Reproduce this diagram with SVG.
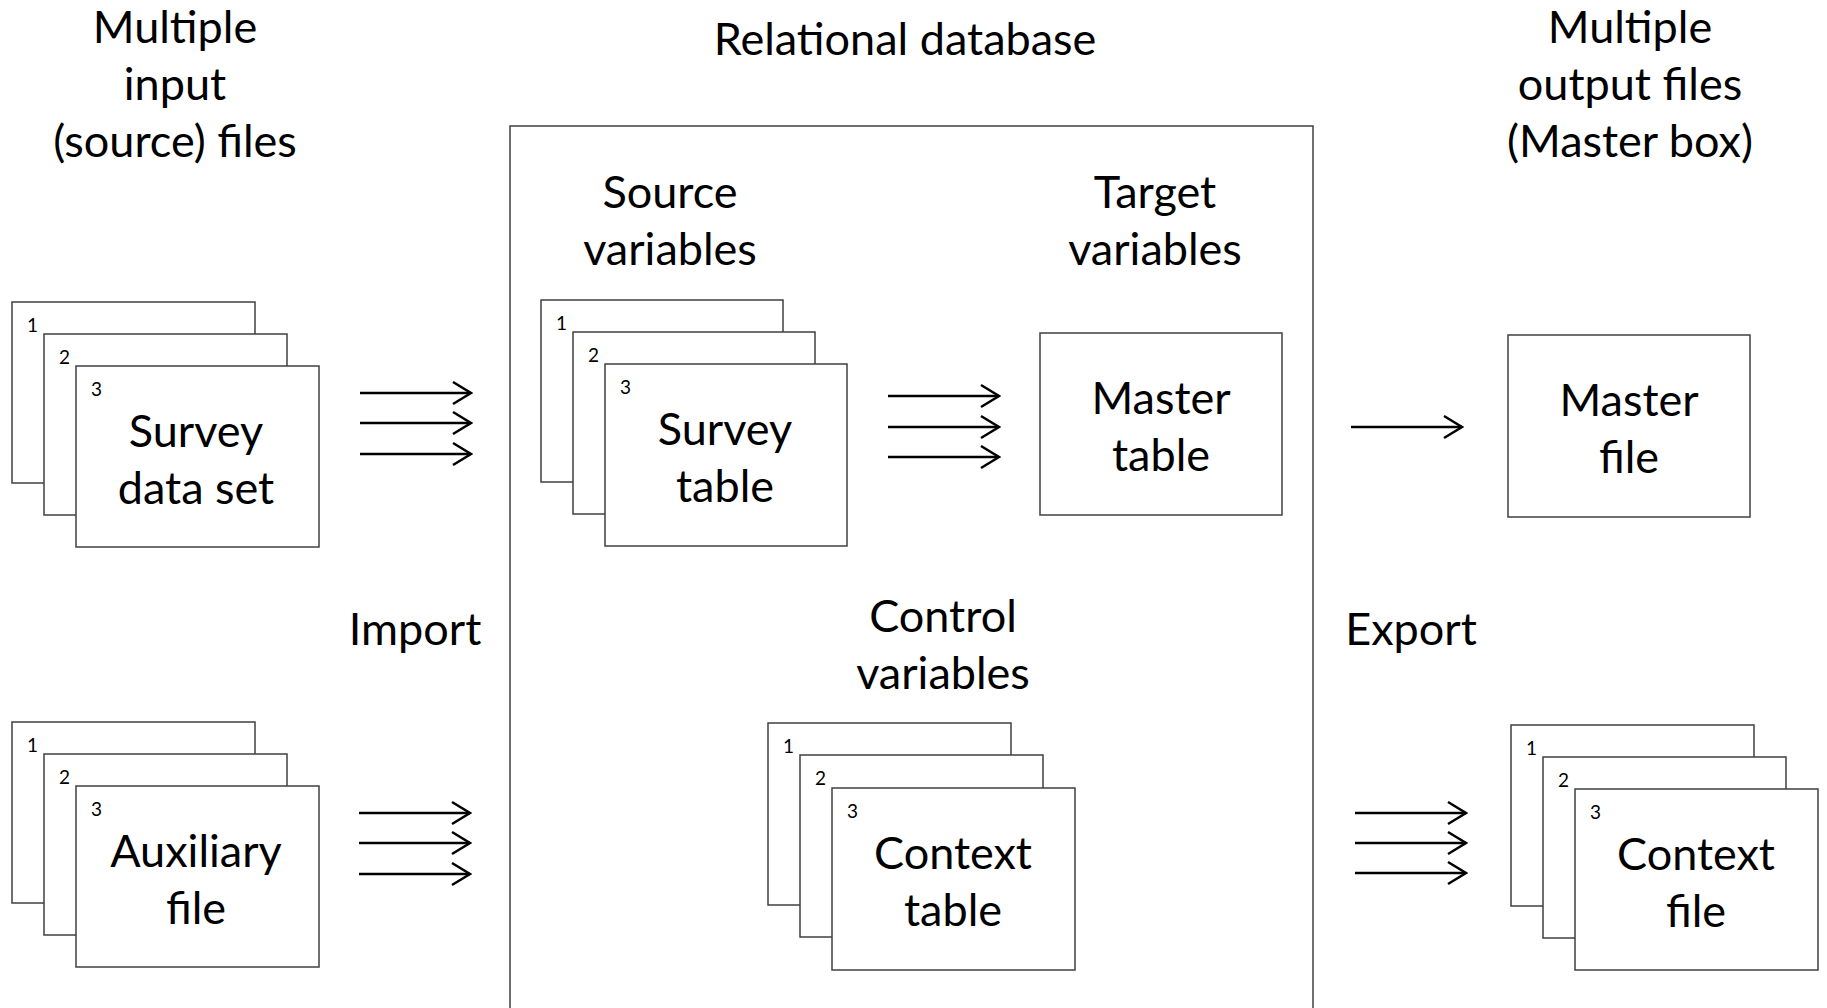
<svg xmlns="http://www.w3.org/2000/svg" width="1827" height="1008" viewBox="0 0 1827 1008">
<defs>
<style>
text{font-family:Lato,"Liberation Sans",sans-serif;fill:#000}
.big{font-size:45px;text-anchor:middle}
.num{font-size:19px}
.card{fill:#fff;stroke:#404040;stroke-width:1.5}
.arrow{stroke:#000;stroke-width:2.5;fill:none;marker-end:url(#chev)}
.db{fill:none;stroke:#404040;stroke-width:1.5}
</style>
<marker id="chev" viewBox="-20 -13 22 26" refX="0" refY="0" markerWidth="22" markerHeight="26" markerUnits="userSpaceOnUse" orient="auto">
<path d="M-18,-11 L0,0 L-18,11" fill="none" stroke="#000" stroke-width="2.5"/>
</marker>
</defs>
<rect fill="#fff" width="1827" height="1008"/>

<g id="headers">
<text class="big" x="175" y="43">Multiple</text>
<text class="big" x="175" y="100">input</text>
<text class="big" x="175" y="157">(source) files</text>
<text class="big" x="905" y="55">Relational database</text>
<text class="big" x="1630" y="43">Multiple</text>
<text class="big" x="1630" y="100">output files</text>
<text class="big" x="1630" y="157">(Master box)</text>
<text class="big" x="415" y="645">Import</text>
<text class="big" x="1411" y="645">Export</text>
</g>

<g id="relational-database">
<rect class="db" x="510" y="126" width="803" height="900"/>
<text class="big" x="670" y="208">Source</text>
<text class="big" x="670" y="265">variables</text>
<text class="big" x="1155" y="208">Target</text>
<text class="big" x="1155" y="265">variables</text>
<text class="big" x="943" y="632">Control</text>
<text class="big" x="943" y="689">variables</text>
</g>

<g id="survey-data-set">
<rect class="card" x="12" y="302" width="243" height="181"/>
<text class="num" x="27" y="332">1</text>
<rect class="card" x="44" y="334" width="243" height="181"/>
<text class="num" x="59" y="364">2</text>
<rect class="card" x="76" y="366" width="243" height="181"/>
<text class="num" x="91" y="396">3</text>
<text class="big" x="196" y="447">Survey</text>
<text class="big" x="196" y="504">data set</text>
</g>

<g id="auxiliary-file">
<rect class="card" x="12" y="722" width="243" height="181"/>
<text class="num" x="27" y="752">1</text>
<rect class="card" x="44" y="754" width="243" height="181"/>
<text class="num" x="59" y="784">2</text>
<rect class="card" x="76" y="786" width="243" height="181"/>
<text class="num" x="91" y="816">3</text>
<text class="big" x="196" y="867">Auxiliary</text>
<text class="big" x="196" y="924">file</text>
</g>

<g id="survey-table">
<rect class="card" x="541" y="300" width="242" height="182"/>
<text class="num" x="556" y="330">1</text>
<rect class="card" x="573" y="332" width="242" height="182"/>
<text class="num" x="588" y="362">2</text>
<rect class="card" x="605" y="364" width="242" height="182"/>
<text class="num" x="620" y="394">3</text>
<text class="big" x="725" y="445">Survey</text>
<text class="big" x="725" y="502">table</text>
</g>

<g id="master-table">
<rect class="card" x="1040" y="333" width="242" height="182"/>
<text class="big" x="1161" y="414">Master</text>
<text class="big" x="1161" y="471">table</text>
</g>

<g id="context-table">
<rect class="card" x="768" y="723" width="243" height="182"/>
<text class="num" x="783" y="753">1</text>
<rect class="card" x="800" y="755" width="243" height="182"/>
<text class="num" x="815" y="785">2</text>
<rect class="card" x="832" y="788" width="243" height="182"/>
<text class="num" x="847" y="818">3</text>
<text class="big" x="953" y="869">Context</text>
<text class="big" x="953" y="926">table</text>
</g>

<g id="master-file">
<rect class="card" x="1508" y="335" width="242" height="182"/>
<text class="big" x="1629" y="416">Master</text>
<text class="big" x="1629" y="473">file</text>
</g>

<g id="context-file">
<rect class="card" x="1511" y="725" width="243" height="181"/>
<text class="num" x="1526" y="755">1</text>
<rect class="card" x="1543" y="757" width="243" height="181"/>
<text class="num" x="1558" y="787">2</text>
<rect class="card" x="1575" y="789" width="243" height="181"/>
<text class="num" x="1590" y="819">3</text>
<text class="big" x="1696" y="870">Context</text>
<text class="big" x="1696" y="927">file</text>
</g>

<g id="connectors">
<line class="arrow" x1="360" y1="393" x2="471" y2="393"/>
<line class="arrow" x1="360" y1="423" x2="471" y2="423"/>
<line class="arrow" x1="360" y1="454" x2="471" y2="454"/>
<line class="arrow" x1="359" y1="813" x2="470" y2="813"/>
<line class="arrow" x1="359" y1="843" x2="470" y2="843"/>
<line class="arrow" x1="359" y1="874" x2="470" y2="874"/>
<line class="arrow" x1="888" y1="396" x2="999" y2="396"/>
<line class="arrow" x1="888" y1="427" x2="999" y2="427"/>
<line class="arrow" x1="888" y1="457" x2="999" y2="457"/>
<line class="arrow" x1="1351" y1="427" x2="1462" y2="427"/>
<line class="arrow" x1="1355" y1="813" x2="1466" y2="813"/>
<line class="arrow" x1="1355" y1="843" x2="1466" y2="843"/>
<line class="arrow" x1="1355" y1="873" x2="1466" y2="873"/>
</g>
</svg>
